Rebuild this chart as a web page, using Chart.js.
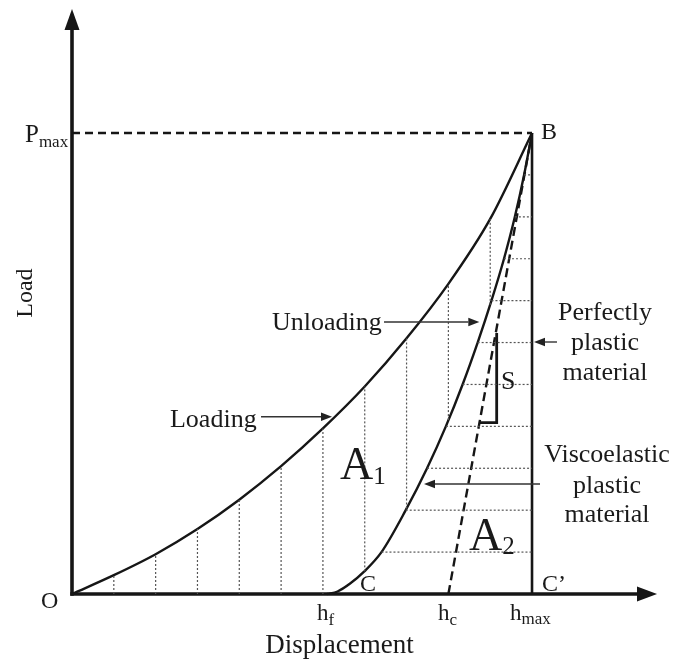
<!DOCTYPE html>
<html>
<head>
<meta charset="utf-8">
<script src="https://cdn.jsdelivr.net/npm/chart.js@4/dist/chart.umd.min.js"></script>
<style>
html,body{margin:0;padding:0;background:#fff;}
canvas{display:block;}
</style>
</head>
<body>
<canvas id="c" width="675" height="659" style="width:675px;height:659px"></canvas>
<script>
// ---- data (units: displacement 0..hmax, load 0..Pmax) ----
const hLoad   = [0, 1, 2, 3, 4, 5, 6, 7, 8, 9, 10, 11];
const pLoad   = [0, 0.45, 0.95, 1.55, 2.25, 3.05, 3.95, 4.95, 6.1, 7.4, 8.95, 11];
const hUnload = [6.1, 6.35, 6.65, 6.99, 7.4, 7.98, 8.49, 8.94, 9.34, 9.70, 10.03, 10.33, 10.59, 10.81, 11];
const pUnload = [0, 0.06, 0.25, 0.54, 1, 2, 3, 4, 5, 6, 7, 8, 9, 10, 11];
const hf = 6.1, hc = 9, hmax = 11, Pmax = 11;
const stripH = [1, 2, 3, 4, 5, 6, 7, 8, 9, 10];             // vertical strips under loading curve
const stripBottom = [0, 0, 0, 0, 0, 0, 0.54, 2.04, 4.15, 6.9]; // where each strip meets the unloading curve / axis
const stripP = [1, 2, 3, 4, 5, 6, 7, 8, 9, 10];             // horizontal strips (load levels)
const slopeTri = {x0: 9.73, x1: 10.155, y0: 4.09, y1: 6.23};

const INK = '#161616';
const FONT = '"Liberation Serif", "Times New Roman", serif';

const pts = (xs, ys) => xs.map((v, i) => ({x: v, y: ys[i]}));

const datasets = [];
function seg(data, opts) {
  datasets.push(Object.assign({
    data, showLine: true, pointRadius: 0, borderColor: INK, borderWidth: 2.5,
    fill: false, tension: 0
  }, opts || {}));
}
// dotted strips
stripH.forEach((h, i) => seg([{x: h, y: stripBottom[i]}, {x: h, y: pLoad[hLoad.indexOf(h)]}],
  {borderColor: '#555', borderWidth: 1.2, borderDash: [2, 2]}));
stripP.forEach((p) => seg([{x: hUnload[pUnload.indexOf(p)], y: p}, {x: hmax, y: p}],
  {borderColor: '#555', borderWidth: 1.2, borderDash: [2, 2]}));
// axes
seg([{x: -0.04, y: 0}, {x: 13.55, y: 0}], {borderWidth: 3.6});
seg([{x: 0, y: -0.04}, {x: 0, y: 13.5}], {borderWidth: 3.6});
// Pmax dashed & hmax vertical
seg([{x: 0, y: Pmax}, {x: hmax, y: Pmax}], {borderDash: [8, 5], borderWidth: 2.4});
seg([{x: hmax, y: 0}, {x: hmax, y: Pmax}], {borderWidth: 2.6});
// curves
seg(pts(hLoad, pLoad), {cubicInterpolationMode: 'monotone', borderWidth: 2.4});
seg(pts(hUnload, pUnload), {cubicInterpolationMode: 'monotone', borderWidth: 2.4});
// contact-depth tangent
seg([{x: hc, y: 0}, {x: hmax, y: Pmax}], {borderDash: [9, 5], borderWidth: 2.4});
// stiffness triangle
seg([{x: slopeTri.x0, y: slopeTri.y0}, {x: slopeTri.x1, y: slopeTri.y0}, {x: slopeTri.x1, y: slopeTri.y1}],
  {borderWidth: 2.8});

// ---- annotations (positions in data units) ----
const labels = [
  {t: 'P', sub: 'max', x: -1.124, y: 10.785, size: 25, subSize: 17, drop: 5},
  {t: 'B', x: 11.215, y: 10.857, size: 24},
  {t: 'O', x: -0.741, y: -0.334, size: 24},
  {t: 'Loading', x: 2.343, y: 3.985, size: 26},
  {t: 'Unloading', x: 4.782, y: 6.299, size: 26},
  {t: 'A', sub: '1', x: 6.408, y: 2.744, size: 46, subSize: 25, drop: 5},
  {t: 'A', sub: '2', x: 9.493, y: 1.050, size: 46, subSize: 25, drop: 4},
  {t: 'S', x: 10.258, y: 4.892, size: 26},
  {t: 'C', x: 6.887, y: 0.072, size: 24},
  {t: 'C\u2019', x: 11.239, y: 0.072, size: 24},
  {t: 'h', sub: 'f', x: 5.858, y: -0.620, size: 23, subSize: 17, drop: 5},
  {t: 'h', sub: 'c', x: 8.752, y: -0.620, size: 23, subSize: 17, drop: 5},
  {t: 'h', sub: 'max', x: 10.473, y: -0.620, size: 23, subSize: 17, drop: 4},
  {t: 'Displacement', x: 6.397, y: -1.408, size: 27, align: 'center'},
  {t: 'Perfectly', x: 12.745, y: 6.538, size: 26, align: 'center'},
  {t: 'plastic', x: 12.745, y: 5.822, size: 26, align: 'center'},
  {t: 'material', x: 12.745, y: 5.106, size: 26, align: 'center'},
  {t: 'Viscoelastic', x: 12.793, y: 3.150, size: 26, align: 'center'},
  {t: 'plastic', x: 12.793, y: 2.410, size: 26, align: 'center'},
  {t: 'material', x: 12.793, y: 1.718, size: 26, align: 'center'},
  {t: 'Load', x: -1.10, y: 7.18, size: 24, align: 'center', rotate: true}
];
const arrows = [
  {x1: 4.52, y1: 4.231, x2: 6.217, y2: 4.231},
  {x1: 7.461, y1: 6.490, x2: 9.74, y2: 6.490},
  {x1: 11.597, y1: 6.013, x2: 11.047, y2: 6.013},
  {x1: 11.191, y1: 2.625, x2: 8.417, y2: 2.625}
];
const axisHeads = [
  {x: 0, y: 13.96, bx: 0, by: 13.46},
  {x: 13.99, y: 0, bx: 13.51, by: 0}
];

function head(ctx, tx, ty, bx, by, half) {
  const dx = tx - bx, dy = ty - by, L = Math.hypot(dx, dy);
  const nx = -dy / L, ny = dx / L;
  ctx.beginPath();
  ctx.moveTo(tx, ty);
  ctx.lineTo(bx + nx * half, by + ny * half);
  ctx.lineTo(bx - nx * half, by - ny * half);
  ctx.closePath();
  ctx.fill();
}

const annot = {
  id: 'annot',
  beforeDraw(chart) {
    const c = chart.ctx;
    c.save(); c.fillStyle = '#fff'; c.fillRect(0, 0, chart.width, chart.height); c.restore();
  },
  afterDatasetsDraw(chart) {
    const ctx = chart.ctx, sx = chart.scales.x, sy = chart.scales.y;
    ctx.save();
    ctx.fillStyle = INK; ctx.strokeStyle = INK;
    // axis arrow heads
    axisHeads.forEach(a => head(ctx, sx.getPixelForValue(a.x), sy.getPixelForValue(a.y),
      sx.getPixelForValue(a.bx), sy.getPixelForValue(a.by), 7.5));
    // pointer arrows
    ctx.strokeStyle = '#333'; ctx.fillStyle = '#222'; ctx.lineWidth = 1.4;
    arrows.forEach(a => {
      const x1 = sx.getPixelForValue(a.x1), y1 = sy.getPixelForValue(a.y1);
      const x2 = sx.getPixelForValue(a.x2), y2 = sy.getPixelForValue(a.y2);
      const L = Math.hypot(x2 - x1, y2 - y1), ux = (x2 - x1) / L, uy = (y2 - y1) / L;
      const hl = 11;
      ctx.beginPath(); ctx.moveTo(x1, y1); ctx.lineTo(x2 - ux * hl, y2 - uy * hl); ctx.stroke();
      head(ctx, x2, y2, x2 - ux * hl, y2 - uy * hl, 4.2);
    });
    // text
    ctx.fillStyle = '#1a1a1a';
    labels.forEach(l => {
      const px = sx.getPixelForValue(l.x), py = sy.getPixelForValue(l.y);
      ctx.font = l.size + 'px ' + FONT;
      if (l.rotate) {
        ctx.save(); ctx.translate(px, py); ctx.rotate(-Math.PI / 2);
        ctx.textAlign = 'center'; ctx.textBaseline = 'middle';
        ctx.fillText(l.t, 0, 0); ctx.restore();
        return;
      }
      ctx.textBaseline = 'alphabetic';
      ctx.textAlign = l.align || 'left';
      ctx.fillText(l.t, px, py);
      if (l.sub) {
        const w = ctx.measureText(l.t).width;
        ctx.font = l.subSize + 'px ' + FONT;
        ctx.textAlign = 'left';
        ctx.fillText(l.sub, px + w, py + l.drop);
      }
    });
    ctx.restore();
  }
};

new Chart(document.getElementById('c'), {
  type: 'scatter',
  data: {datasets},
  options: {
    responsive: false, animation: false, devicePixelRatio: 1,
    layout: {padding: 0},
    plugins: {legend: {display: false}, tooltip: {enabled: false}},
    scales: {
      x: {type: 'linear', display: false, min: -72 / 41.82, max: (675 - 72) / 41.82},
      y: {type: 'linear', display: false, min: -(659 - 594) / 41.909, max: 594 / 41.909}
    }
  },
  plugins: [annot]
});
</script>
</body>
</html>
